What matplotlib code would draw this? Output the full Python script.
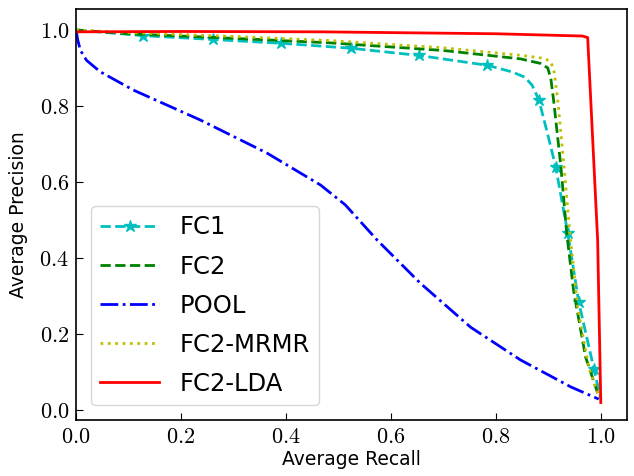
import numpy as np
import matplotlib
matplotlib.use('Agg')
import matplotlib.pyplot as plt
from matplotlib.ticker import FuncFormatter

plt.rcParams['mathtext.fontset'] = 'cm'

# precision / recall curves
fc1_recall = [0.0, 0.128, 0.26, 0.391, 0.523, 0.653, 0.784, 0.83, 0.855, 0.869, 0.882, 0.898, 0.914, 0.937, 0.958, 0.987, 1.0]
fc1_prec = [1.0, 0.985, 0.975, 0.965, 0.952, 0.933, 0.907, 0.89, 0.876, 0.855, 0.816, 0.73, 0.64, 0.466, 0.284, 0.108, 0.03]
fc1_marks = [1, 2, 3, 4, 5, 6, 10, 12, 13, 14, 15]

fc2_recall = [0.0, 0.1, 0.3, 0.485, 0.7, 0.847, 0.885, 0.899, 0.905, 0.91, 0.924, 0.935, 0.948, 0.971, 0.994]
fc2_prec = [1.0, 0.99, 0.978, 0.966, 0.946, 0.924, 0.912, 0.9, 0.87, 0.816, 0.64, 0.466, 0.316, 0.14, 0.045]

pool_recall = [0.0, 0.003, 0.008, 0.02, 0.046, 0.109, 0.237, 0.364, 0.466, 0.513, 0.574, 0.656, 0.752, 0.847, 0.943, 0.996]
pool_prec = [1.0, 0.975, 0.947, 0.92, 0.89, 0.842, 0.763, 0.676, 0.592, 0.54, 0.447, 0.334, 0.218, 0.132, 0.061, 0.029]

mrmr_recall = [0.0, 0.1, 0.3, 0.485, 0.7, 0.85, 0.893, 0.905, 0.911, 0.918, 0.93, 0.941, 0.956, 0.977, 0.995]
mrmr_prec = [1.0, 0.993, 0.983, 0.972, 0.953, 0.933, 0.925, 0.916, 0.89, 0.816, 0.64, 0.466, 0.27, 0.113, 0.04]

lda_recall = [0.0, 0.2, 0.469, 0.8, 0.965, 0.975, 0.994, 1.0]
lda_prec = [0.995, 0.996, 0.995, 0.99, 0.984, 0.98, 0.447, 0.02]

fig = plt.figure(figsize=(6.34, 4.76), dpi=100)
ax = fig.add_axes([0.12, 0.1176, 0.869, 0.8634])

ax.plot(fc1_recall, fc1_prec, 'c--', marker='*', markevery=fc1_marks, markersize=9, lw=2, label='FC1')
ax.plot(fc2_recall, fc2_prec, 'g--', lw=2, label='FC2')
ax.plot(pool_recall, pool_prec, 'b-.', lw=2, label='POOL')
ax.plot(mrmr_recall, mrmr_prec, 'y:', lw=2, label='FC2-MRMR')
ax.plot(lda_recall, lda_prec, 'r-', lw=2, label='FC2-LDA')

ax.set_xlim(0, 1.05)
ax.set_ylim(-0.026, 1.055)
ax.set_xticks(np.arange(0, 1.01, 0.2))
ax.set_yticks(np.arange(0, 1.01, 0.2))
fmt = FuncFormatter(lambda v, p: r'$%.1f$' % v)
ax.xaxis.set_major_formatter(fmt)
ax.yaxis.set_major_formatter(fmt)
ax.tick_params(direction='in', length=5, pad=5, labelsize=16)
for s in ax.spines.values():
    s.set_linewidth(1.2)

ax.set_xlabel('Average Recall', fontsize=13.5, labelpad=2)
ax.set_ylabel('Average Precision', fontsize=13.5, labelpad=8)

ax.legend(loc='lower left', fontsize=17.5, handlelength=2.4, handletextpad=0.85,
          labelspacing=0.62, borderaxespad=0.6)

plt.savefig('out.png', dpi=100)
